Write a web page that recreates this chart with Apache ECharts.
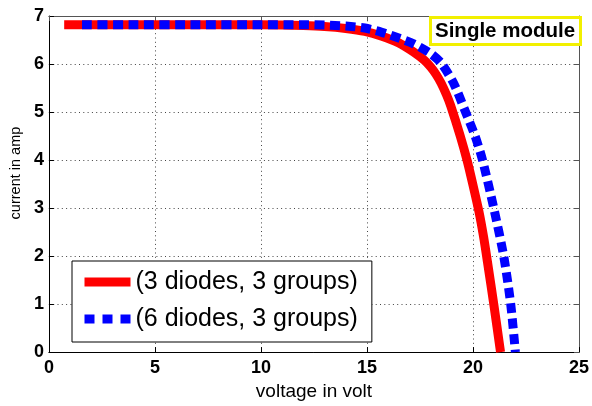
<!DOCTYPE html>
<html>
<head>
<meta charset="utf-8">
<script src="https://cdn.jsdelivr.net/npm/echarts@6/dist/echarts.min.js"></script>
<style>
html,body{margin:0;padding:0;background:#fff;}
#chart{width:592px;height:406px;}
</style>
</head>
<body>
<div id="chart"></div>
<script>
// ---- data ----
const seriesNames = ['(3 diodes, 3 groups)', '(6 diodes, 3 groups)'];
const titleText = 'Single module';
const xAxisName = 'voltage in volt';
const yAxisName = 'current in amp';

const voltsRed = [0.72, 3, 6, 9, 11, 12, 13, 14, 14.9, 15.7, 16.5, 17.2, 17.7, 18.0, 18.25, 18.5, 18.75, 18.95, 19.4, 19.73, 20.0, 20.28, 20.5, 20.7, 20.98, 21.3];
const ampsRed  = [6.82, 6.82, 6.82, 6.82, 6.81, 6.80, 6.78, 6.74, 6.68, 6.58, 6.44, 6.25, 6.08, 5.94, 5.79, 5.60, 5.36, 5.13, 4.50, 3.98, 3.48, 2.93, 2.40, 1.83, 1.00, 0.0];

const voltsBlue = [1.56, 4, 7, 10, 12, 13, 14, 14.9, 15.7, 16.5, 17.2, 18.0, 18.5, 19.1, 19.65, 20.1, 20.45, 20.98, 21.45, 21.78, 22.0];
const ampsBlue  = [6.82, 6.82, 6.82, 6.82, 6.82, 6.81, 6.79, 6.75, 6.66, 6.54, 6.42, 6.22, 6.02, 5.59, 5.00, 4.50, 4.00, 3.00, 2.00, 1.00, 0.0];

const xTicks = {min: 0, max: 25, interval: 5};
const yTicks = {min: 0, max: 7, interval: 1};

const pairs = (xs, ys) => xs.map((x, i) => [x, ys[i]]);

const FONT = '"Liberation Sans", Arial, sans-serif';
const chart = echarts.init(document.getElementById('chart'), null, {renderer: 'canvas'});

const gridLine = {show: true, lineStyle: {color: '#444', width: 1, type: [1, 3.3]}};
const baseX = {type: 'value', min: xTicks.min, max: xTicks.max, interval: xTicks.interval};
const baseY = {type: 'value', min: yTicks.min, max: yTicks.max, interval: yTicks.interval};

chart.setOption({
  animation: false,
  backgroundColor: '#fff',
  title: {
    text: titleText,
    left: 430, top: 17,
    padding: [3, 6, 3, 5],
    borderColor: '#f2f000', borderWidth: 3,
    backgroundColor: '#fff',
    textStyle: {fontFamily: FONT, fontSize: 20.5, fontWeight: 'bold', color: '#000', lineHeight: 22}
  },
  grid: {left: 47.7, right: 9.3, top: 16, bottom: 49, containLabel: false},
  legend: {
    orient: 'vertical',
    left: 72, top: 261,
    padding: [7, 14, 9, 8],
    itemGap: 9,
    itemWidth: 46, itemHeight: 12,
    backgroundColor: '#fff', borderColor: '#000', borderWidth: 1,
    itemStyle: {opacity: 0},
    lineStyle: {width: 9},
    textStyle: {fontFamily: FONT, fontSize: 25, color: '#000', lineHeight: 28},
    data: [
      {name: seriesNames[0]},
      {name: seriesNames[1], lineStyle: {type: [10, 8], width: 9}}
    ]
  },
  xAxis: [
    Object.assign({}, baseX, {
      position: 'bottom',
      name: xAxisName, nameLocation: 'middle', nameGap: 26,
      nameTextStyle: {fontFamily: FONT, fontSize: 19, color: '#000'},
      axisLine: {show: true, onZero: false, lineStyle: {color: '#000', width: 1}},
      axisTick: {show: true, inside: true, length: 5, lineStyle: {color: '#000'}},
      axisLabel: {fontFamily: FONT, fontSize: 18, fontWeight: 'bold', color: '#000', margin: 7},
      splitLine: gridLine
    }),
    Object.assign({}, baseX, {
      position: 'top',
      axisLine: {show: true, onZero: false, lineStyle: {color: '#555', width: 1}},
      axisTick: {show: true, inside: true, length: 5, lineStyle: {color: '#555'}},
      axisLabel: {show: false},
      splitLine: {show: false}
    })
  ],
  yAxis: [
    Object.assign({}, baseY, {
      position: 'left',
      name: yAxisName, nameLocation: 'middle', nameGap: 17, nameRotate: 90,
      nameTextStyle: {fontFamily: FONT, fontSize: 14.5, color: '#000', padding: [0, 0, 0, 22]},
      axisLine: {show: true, onZero: false, lineStyle: {color: '#000', width: 1}},
      axisTick: {show: true, inside: true, length: 5, lineStyle: {color: '#000'}},
      axisLabel: {fontFamily: FONT, fontSize: 18, fontWeight: 'bold', color: '#000', margin: 5},
      splitLine: gridLine
    }),
    Object.assign({}, baseY, {
      position: 'right',
      axisLine: {show: true, onZero: false, lineStyle: {color: '#555', width: 1}},
      axisTick: {show: true, inside: true, length: 5, lineStyle: {color: '#555'}},
      axisLabel: {show: false},
      splitLine: {show: false}
    })
  ],
  series: [
    {
      name: seriesNames[0], type: 'line',
      xAxisIndex: 0, yAxisIndex: 0,
      data: pairs(voltsRed, ampsRed),
      showSymbol: false, symbol: 'none',
      smooth: 0.25,
      clip: true,
      color: '#ff0000',
      lineStyle: {color: '#ff0000', width: 9, cap: 'butt', join: 'round'},
      z: 3
    },
    {
      name: seriesNames[1], type: 'line',
      xAxisIndex: 0, yAxisIndex: 0,
      data: pairs(voltsBlue, ampsBlue),
      showSymbol: false, symbol: 'none',
      smooth: 0.25,
      clip: true,
      color: '#0000ff',
      lineStyle: {color: '#0000ff', width: 9, type: [10, 5.5], cap: 'butt', join: 'miter'},
      z: 4
    }
  ]
});
</script>
</body>
</html>
